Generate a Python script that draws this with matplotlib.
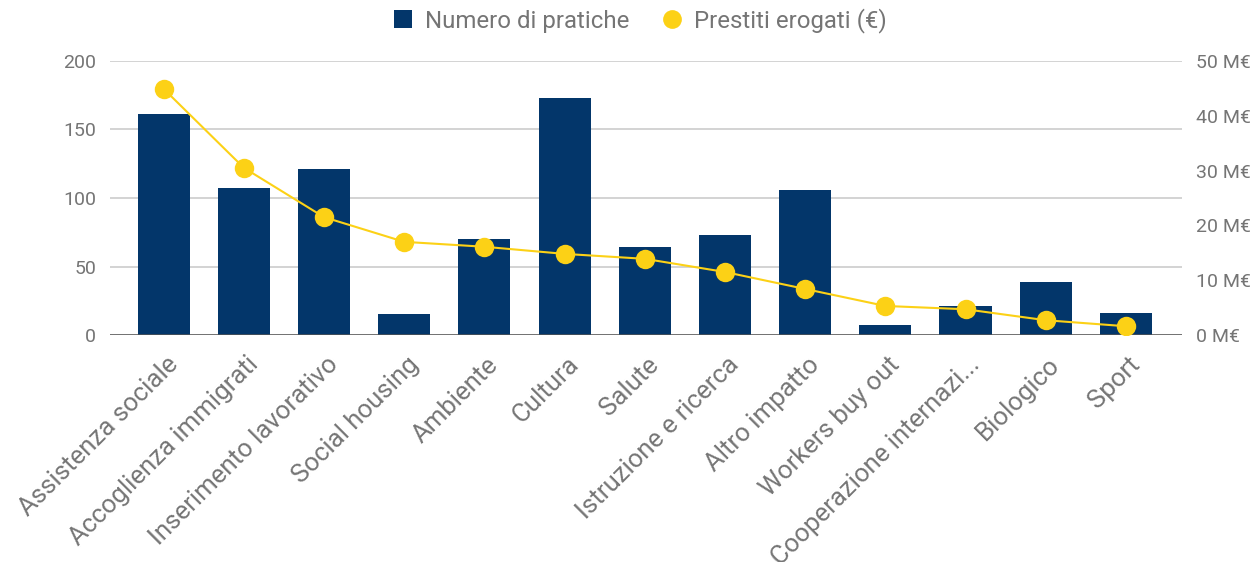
import matplotlib.pyplot as plt
import matplotlib.transforms as mtransforms
from matplotlib.lines import Line2D

plt.rcParams['font.family'] = ['Roboto', 'DejaVu Sans']

# Dati
categorie = ['Assistenza sociale', 'Accoglienza immigrati', 'Inserimento lavorativo',
             'Social housing', 'Ambiente', 'Cultura', 'Salute', 'Istruzione e ricerca',
             'Altro impatto', 'Workers buy out', 'Cooperazione internazi...',
             'Biologico', 'Sport']
numero_pratiche = [161, 107, 121, 15, 70, 173, 64, 73, 106, 7, 21, 39, 16]
prestiti_meuro = [44.9, 30.5, 21.5, 17.0, 16.1, 14.8, 13.9, 11.5, 8.4, 5.3, 4.7, 2.7, 1.6]

col_bar = '#03366a'
col_line = '#fcd116'
col_text = '#757575'

fig = plt.figure(figsize=(12.5, 5.62), dpi=100)
ax1 = fig.add_axes([0.088, 0.4039, 0.8576, 0.4876])
x = list(range(len(categorie)))

ax1.bar(x, numero_pratiche, width=0.65, color=col_bar, zorder=2)
ax1.set_ylim(0, 200)
ax1.set_yticks([0, 50, 100, 150, 200])
ax1.set_xlim(-0.67, 12.7)
ax1.grid(axis='y', color='#cccccc', linewidth=1.2, zorder=0)
ax1.axhline(0, color='#555555', linewidth=1.8, zorder=3)
for s in ax1.spines.values():
    s.set_visible(False)
ax1.tick_params(axis='both', length=0, labelsize=14, labelcolor=col_text)
ax1.tick_params(axis='y', pad=10)
ax1.set_xticks(x)
ax1.set_xticklabels(categorie, rotation=45, ha='right', va='top',
                    rotation_mode='anchor', fontsize=18.5)
ax1.tick_params(axis='x', pad=12.5)
# leggero spostamento a destra delle etichette ruotate
offset = mtransforms.ScaledTranslation(2 / 100, 0, fig.dpi_scale_trans)
for lab in ax1.get_xticklabels():
    lab.set_transform(lab.get_transform() + offset)

ax2 = ax1.twinx()
ax2.plot(x, prestiti_meuro, color=col_line, linewidth=1.5, marker='o',
         markersize=14, markeredgewidth=0, zorder=4)
ax2.set_ylim(0, 50)
ax2.set_yticks([0, 10, 20, 30, 40, 50])
ax2.set_yticklabels([f'{v} M€' for v in [0, 10, 20, 30, 40, 50]])
for s in ax2.spines.values():
    s.set_visible(False)
ax2.tick_params(axis='y', length=0, labelsize=14, labelcolor=col_text, pad=10)

handles = [
    Line2D([], [], marker='s', color='none', markerfacecolor=col_bar,
           markeredgewidth=0, markersize=13.5),
    Line2D([], [], marker='o', color='none', markerfacecolor=col_line,
           markeredgewidth=0, markersize=13.5),
]
fig.legend(handles, ['Numero di pratiche', 'Prestiti erogati (€)'],
           loc='center', bbox_to_anchor=(0.51, 0.963), ncol=2, frameon=False,
           fontsize=17.3, labelcolor=col_text, handletextpad=0.3,
           columnspacing=1.2, handlelength=1.2)

fig.savefig('out.png', dpi=100)
